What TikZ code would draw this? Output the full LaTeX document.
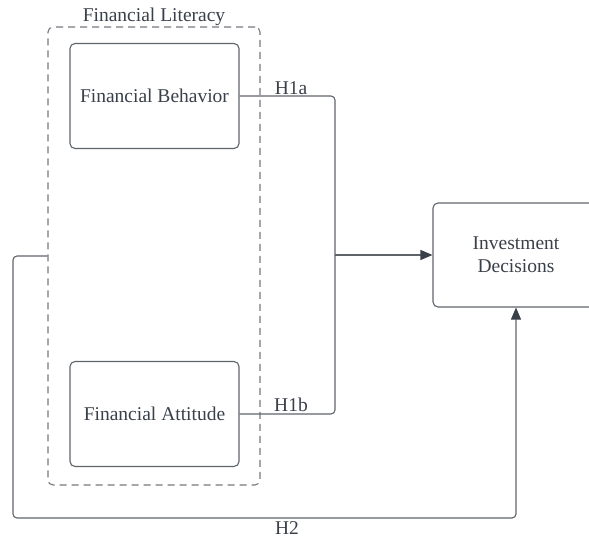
\documentclass[tikz,border=0pt]{standalone}
\usepackage{fontspec}
\setmainfont{Liberation Serif}
\usetikzlibrary{arrows.meta}
\definecolor{ln}{HTML}{5F646B}
\definecolor{tx}{HTML}{3A4049}
\definecolor{dsh}{HTML}{74787E}
\definecolor{tipc}{HTML}{3A4049}
\begin{document}
\begin{tikzpicture}[x=1pt,y=-1pt,
  box/.style={draw=ln, line width=1.1pt, rounded corners=5pt, text=tx, align=center,
    font=\fontsize{19.5}{23}\selectfont, inner sep=0pt},
  group/.style={draw=dsh, line width=1.1pt, dash pattern=on 7pt off 5pt, rounded corners=5pt, inner sep=0pt},
  conn/.style={draw=ln, line width=1.1pt, rounded corners=4pt},
  tip/.style={-{Triangle[length=12pt,width=10pt,color=tipc]}},
  lbl/.style={text=tx, font=\fontsize{19.5}{23}\selectfont, inner sep=0pt}]
\path[use as bounding box] (0,0) rectangle (589,538);
\begin{scope}
\clip (0,0) rectangle (589,538);
\node[group, minimum width=212pt, minimum height=458pt] (fl) at (154,256) {};
\node[lbl] (fltitle) at (154,17) {Financial Literacy};
\node[box, minimum width=169pt, minimum height=105pt] (fb) at (154.5,96) {Financial Behavior};
\node[box, minimum width=169pt, minimum height=105pt] (fa) at (154.5,414) {Financial Attitude};
\node[box, minimum width=166pt, minimum height=104pt] (inv) at (516,255) {Investment\\Decisions};
\coordinate (j) at (335,255);
\coordinate (b1) at (13,518);
\draw[conn] (fb.east) -| (j);
\draw[conn] (fa.east) -| (j);
\draw[conn, tip, rounded corners=0pt] (j) -- (inv.west);
\draw[conn, tip] (fl.west) -| (b1) -| (inv.south);
\node[lbl] (h1a) at (291,88) {H1a};
\node[lbl] (h1b) at (291,405) {H1b};
\node[lbl] (h2) at (287,528) {H2};
\end{scope}
\end{tikzpicture}
\end{document}
